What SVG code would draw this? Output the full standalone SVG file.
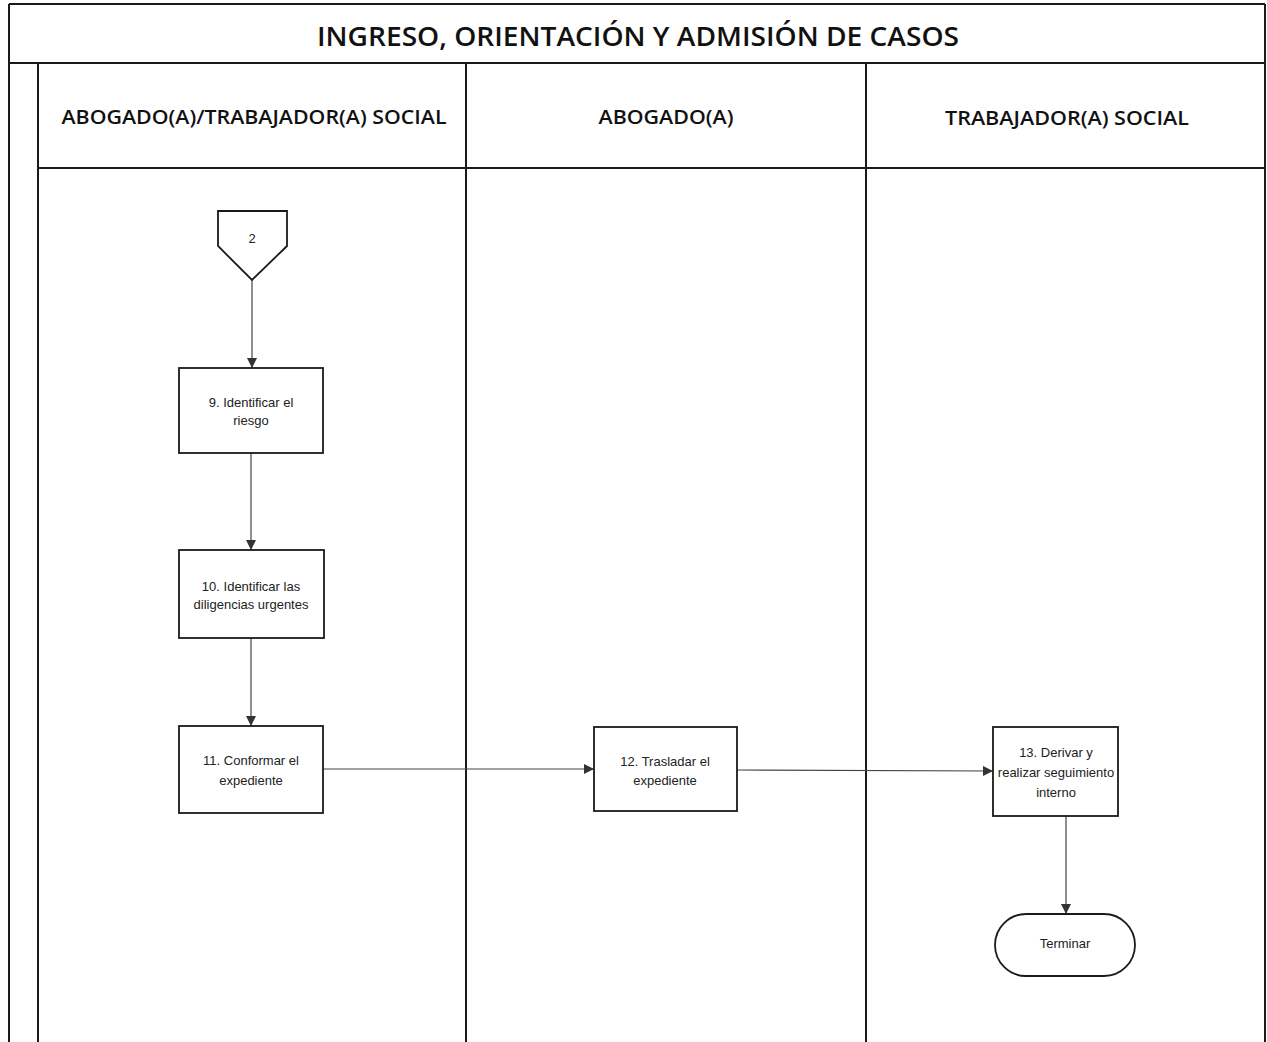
<svg xmlns="http://www.w3.org/2000/svg" width="1267" height="1042" viewBox="0 0 1267 1042">
<style>
.frame{fill:none;stroke:#1a1a1a;stroke-width:2}
.node{fill:#fff;stroke:#1a1a1a;stroke-width:1.8}
.conn{fill:none;stroke:#444;stroke-width:1.2}
.title{font-family:"Open Sans","Liberation Sans",Arial,sans-serif;font-size:27px;font-weight:600;fill:#111;text-anchor:middle}
.hdr{font-family:"Open Sans","Liberation Sans",Arial,sans-serif;font-size:19px;font-weight:600;fill:#111;text-anchor:middle}
.lbl{font-family:"Liberation Sans",Arial,sans-serif;font-size:13px;fill:#222;text-anchor:middle}
</style>
<defs>
<marker id="arr" viewBox="0 0 10 10" refX="10" refY="5" markerWidth="10" markerHeight="10" markerUnits="userSpaceOnUse" orient="auto">
<path d="M0,0 L10,5 L0,10 z" fill="#333"/>
</marker>
</defs>
<rect width="1267" height="1042" fill="#fff"/>
<g id="frame">
<line class="frame" x1="9" y1="4" x2="1265" y2="4"/>
<line class="frame" x1="9" y1="4" x2="9" y2="1042"/>
<line class="frame" x1="1265" y1="4" x2="1265" y2="1042"/>
<line class="frame" x1="9" y1="63" x2="1265" y2="63"/>
<line class="frame" x1="38" y1="63" x2="38" y2="1042"/>
<line class="frame" x1="38" y1="168" x2="1265" y2="168"/>
<line class="frame" x1="466" y1="63" x2="466" y2="1042"/>
<line class="frame" x1="866" y1="63" x2="866" y2="1042"/>
<text class="title" x="638" y="46" textLength="642" lengthAdjust="spacingAndGlyphs">INGRESO, ORIENTACIÓN Y ADMISIÓN DE CASOS</text>
<text class="hdr" x="254" y="124" textLength="385" lengthAdjust="spacingAndGlyphs">ABOGADO(A)/TRABAJADOR(A) SOCIAL</text>
<text class="hdr" x="666" y="124" textLength="135" lengthAdjust="spacingAndGlyphs">ABOGADO(A)</text>
<text class="hdr" x="1067" y="125" textLength="244" lengthAdjust="spacingAndGlyphs">TRABAJADOR(A) SOCIAL</text>
</g>
<g id="connectors">
<line class="conn" x1="252" y1="280" x2="252" y2="368" marker-end="url(#arr)"/>
<line class="conn" x1="251" y1="453" x2="251" y2="550" marker-end="url(#arr)"/>
<line class="conn" x1="251" y1="638" x2="251" y2="726" marker-end="url(#arr)"/>
<line class="conn" x1="323" y1="769" x2="594" y2="769" marker-end="url(#arr)"/>
<line class="conn" x1="737" y1="770" x2="993" y2="771" marker-end="url(#arr)"/>
<line class="conn" x1="1066" y1="816" x2="1066" y2="914" marker-end="url(#arr)"/>
</g>
<g id="n2">
<path class="node" d="M218,211 L287,211 L287,246 L252,280 L218,246 Z"/>
<text class="lbl" x="252" y="243">2</text>
</g>
<g id="n9">
<rect class="node" x="179" y="368" width="144" height="85"/>
<text class="lbl" x="251" y="407">9. Identificar el</text>
<text class="lbl" x="251" y="425">riesgo</text>
</g>
<g id="n10">
<rect class="node" x="179" y="550" width="145" height="88"/>
<text class="lbl" x="251" y="591">10. Identificar las</text>
<text class="lbl" x="251" y="609">diligencias urgentes</text>
</g>
<g id="n11">
<rect class="node" x="179" y="726" width="144" height="87"/>
<text class="lbl" x="251" y="765">11. Conformar el</text>
<text class="lbl" x="251" y="785">expediente</text>
</g>
<g id="n12">
<rect class="node" x="594" y="727" width="143" height="84"/>
<text class="lbl" x="665" y="766">12. Trasladar el</text>
<text class="lbl" x="665" y="785">expediente</text>
</g>
<g id="n13">
<rect class="node" x="993" y="727" width="125" height="89"/>
<text class="lbl" x="1056" y="757">13. Derivar y</text>
<text class="lbl" x="1056" y="777">realizar seguimiento</text>
<text class="lbl" x="1056" y="797">interno</text>
</g>
<g id="terminar">
<rect class="node" x="995" y="914" width="140" height="62" rx="31" ry="31"/>
<text class="lbl" x="1065" y="948">Terminar</text>
</g>
</svg>
